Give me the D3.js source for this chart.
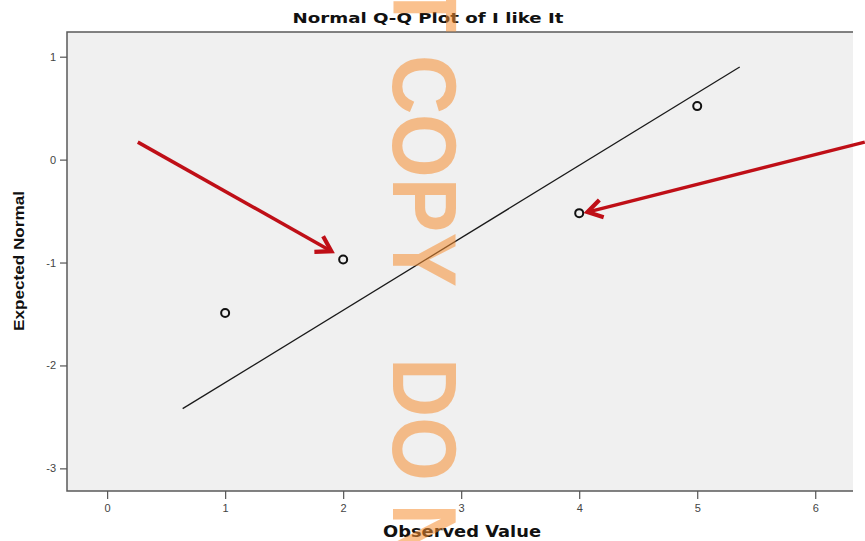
<!DOCTYPE html>
<html>
<head>
<meta charset="utf-8">
<script src="https://cdn.jsdelivr.net/npm/d3@7"></script>
<style>
  body { margin: 0; background: #fff; }
  text { font-family: "Liberation Sans", Arial, sans-serif; }
  .tick line { stroke: #555; stroke-width: 1.2; }
  .tick text { fill: #444; font-size: 11px; }
  .domain { display: none; }
</style>
</head>
<body>
<div class="wrapper"></div>
<script>
width = 865;
height = 541;

// data
observed = [1, 2, 4, 5];
expected = [-1.49, -0.97, -0.52, 0.52];
fitX = [0.64, 5.36];
fitY = [-2.42, 0.90];
xTicks = [0, 1, 2, 3, 4, 5, 6];
yTicks = [-3, -2, -1, 0, 1];

// annotation arrows (data units)
arrowFrom = [[0.26, 0.17], [6.42, 0.17]];
arrowTo = [[1.90, -0.89], [4.07, -0.51]];

plotLeft = 67; plotRight = 853; plotTop = 32; plotBottom = 491;

scaleX = d3.scaleLinear().domain([-0.34, 6.32]).range([plotLeft, plotRight]);
scaleY = d3.scaleLinear().domain([-3.22, 1.24]).range([plotBottom, plotTop]);

svg = d3.select(".wrapper")
  .append("svg")
  .attr("width", width)
  .attr("height", height);

/* plot frame */
svg.append("rect")
  .attr("x", plotLeft).attr("y", plotTop)
  .attr("width", plotRight - plotLeft).attr("height", plotBottom - plotTop)
  .attr("fill", "#f0f0f0");

svg.append("path")
  .attr("d", "M" + plotRight + "," + plotTop + "H" + plotLeft + "V" + plotBottom + "H" + plotRight)
  .attr("fill", "none")
  .attr("stroke", "#5a5a5a")
  .attr("stroke-width", 1.5);

/* axes */
svg.append("g")
  .attr("transform", "translate(" + plotLeft + ",0)")
  .call(d3.axisLeft(scaleY).tickValues(yTicks).tickSize(7).tickPadding(4).tickFormat(function (d) { return String(d) }));

svg.append("g")
  .attr("transform", "translate(0," + plotBottom + ")")
  .call(d3.axisBottom(scaleX).tickValues(xTicks).tickSize(8).tickPadding(5).tickFormat(function (d) { return String(d) }));

/* fit line */
svg.append("line")
  .attr("x1", scaleX(fitX[0])).attr("y1", scaleY(fitY[0]))
  .attr("x2", scaleX(fitX[1])).attr("y2", scaleY(fitY[1]))
  .attr("stroke", "#1a1a1a")
  .attr("stroke-width", 1.3);

/* points */
svg.selectAll(".pt")
  .data(observed)
  .enter().append("circle")
  .attr("class", "pt")
  .attr("cx", function (d) { return scaleX(d) })
  .attr("cy", function (d, i) { return scaleY(expected[i]) })
  .attr("r", 4)
  .attr("fill", "none")
  .attr("stroke", "#111")
  .attr("stroke-width", 2);

/* titles */
svg.append("text")
  .attr("x", 428).attr("y", 23)
  .attr("text-anchor", "middle")
  .style("font-family", "'DejaVu Sans', sans-serif")
  .attr("font-size", 14).attr("font-weight", "bold")
  .attr("textLength", 271).attr("lengthAdjust", "spacingAndGlyphs")
  .attr("fill", "#111")
  .text("Normal Q-Q Plot of I like It");

svg.append("text")
  .attr("x", 462).attr("y", 537)
  .attr("text-anchor", "middle")
  .style("font-family", "'DejaVu Sans', sans-serif")
  .attr("font-size", 16).attr("font-weight", "bold")
  .attr("textLength", 158).attr("lengthAdjust", "spacingAndGlyphs")
  .attr("fill", "#111")
  .text("Observed Value");

svg.append("text")
  .attr("transform", "translate(24,261) rotate(-90)")
  .attr("text-anchor", "middle")
  .attr("font-size", 15).attr("font-weight", "bold")
  .attr("textLength", 140).attr("lengthAdjust", "spacingAndGlyphs")
  .attr("fill", "#111")
  .text("Expected Normal");

/* red arrows */
var arrows = svg.append("g").attr("class", "arrows");
arrowFrom.forEach(function (f, i) {
  var x1 = scaleX(f[0]), y1 = scaleY(f[1]);
  var x2 = scaleX(arrowTo[i][0]), y2 = scaleY(arrowTo[i][1]);
  var a = Math.atan2(y2 - y1, x2 - x1);
  var L = 17, s = 0.55;
  arrows.append("line")
    .attr("x1", x1).attr("y1", y1).attr("x2", x2 - 2 * Math.cos(a)).attr("y2", y2 - 2 * Math.sin(a))
    .attr("stroke", "#bf0f17").attr("stroke-width", 3.5);
  arrows.append("path")
    .attr("d", "M" + (x2 - L * Math.cos(a - s)) + "," + (y2 - L * Math.sin(a - s)) +
      "L" + x2 + "," + y2 +
      "L" + (x2 - L * Math.cos(a + s)) + "," + (y2 - L * Math.sin(a + s)))
    .attr("fill", "none").attr("stroke", "#bf0f17").attr("stroke-width", 4.2)
    .attr("stroke-linejoin", "miter");
});

/* watermark */
var wm = svg.append("g")
  .attr("fill", "rgb(245,142,49)")
  .attr("fill-opacity", 0.55)
  .style("font-family", "'DejaVu Sans', sans-serif")
  .attr("font-weight", "bold")
  .attr("font-size", 90);

wm.append("text")
  .attr("transform", "translate(393,287) rotate(90) scale(0.91,1)")
  .attr("text-anchor", "end")
  .text("NOT COPY");

wm.append("text")
  .attr("transform", "translate(393,358) rotate(90) scale(0.91,1)")
  .attr("text-anchor", "start")
  .text("DO NOT");
</script>
</body>
</html>
